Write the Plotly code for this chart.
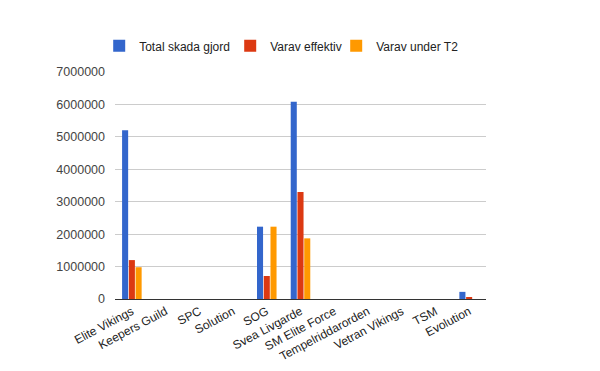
import plotly.graph_objects as go

categories = ["Elite Vikings", "Keepers Guild", "SPC", "Solution", "SOG", "Svea Livgarde",
              "SM Elite Force", "Tempelriddarorden", "Vetran Vikings", "TSM", "Evolution"]
total = [5200000, 0, 0, 0, 2230000, 6080000, 0, 0, 0, 0, 220000]
effektiv = [1200000, 0, 0, 0, 710000, 3300000, 0, 0, 0, 0, 40000]
under_t2 = [980000, 0, 0, 0, 2230000, 1870000, 0, 0, 0, 0, 0]
series_names = ["Total skada gjord", "Varav effektiv", "Varav under T2"]
colors = ["#3366cc", "#dc3912", "#ff9900"]
legend_widths = [86, 61, 90]
y_ticks = [0, 1000000, 2000000, 3000000, 4000000, 5000000, 6000000, 7000000]

fig = go.Figure()
for name, vals, c, lw in zip(series_names, [total, effektiv, under_t2], colors, legend_widths):
    fig.add_trace(go.Bar(x=categories, y=vals, name=name, marker_color=c,
                         marker_line_width=0, legendwidth=lw))

fig.update_layout(
    width=600, height=371,
    margin=dict(l=107, r=122, t=64, b=80, autoexpand=False),
    paper_bgcolor="white", plot_bgcolor="white",
    font=dict(family="Liberation Sans, Arial, sans-serif", size=12, color="#222222"),
    barmode="group", bargap=0.4, bargroupgap=0.1,
    showlegend=True,
    legend=dict(orientation="h", xref="container", yref="container",
                x=0.152, xanchor="left", y=0.898, yanchor="middle",
                font=dict(size=12, color="#222222"), bgcolor="rgba(0,0,0,0)",
                itemwidth=30, traceorder="normal"),
    xaxis=dict(tickangle=-28, showgrid=False, showline=True, linecolor="#333333",
               linewidth=1, ticks="", tickfont=dict(size=12, color="#222222"),
               automargin=False),
    yaxis=dict(range=[0, 7000000], tickvals=y_ticks,
               ticktext=[str(v) for v in y_ticks],
               showgrid=True, gridcolor="#cccccc", gridwidth=1, zeroline=False,
               ticks="", ticklabelstandoff=9,
               tickfont=dict(size=12.5, color="#444444"), automargin=False),
)
fig.write_html("out.html")
